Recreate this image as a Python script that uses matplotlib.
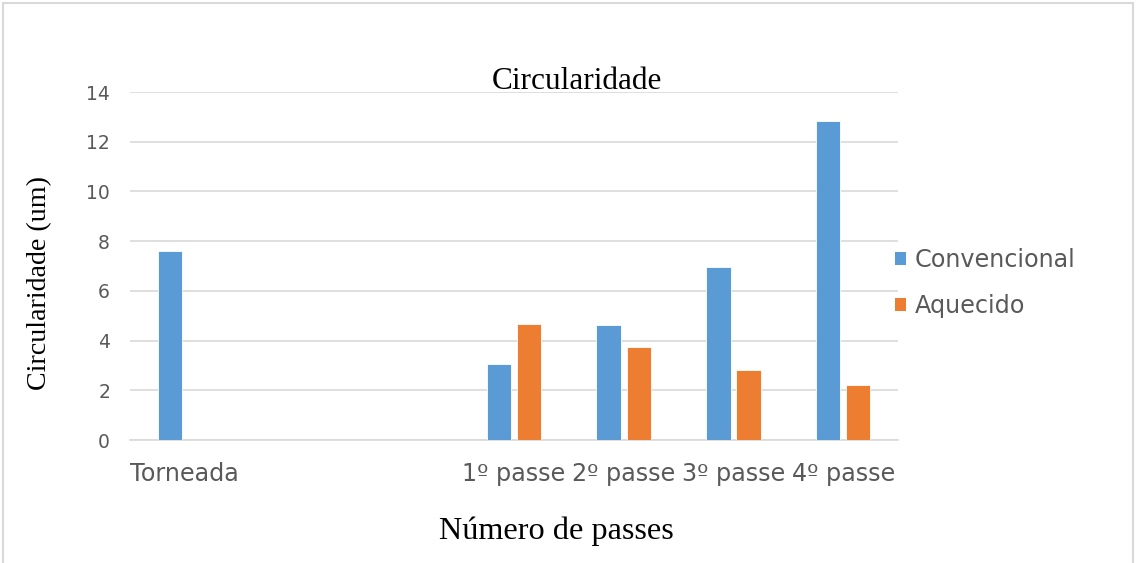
import matplotlib
matplotlib.use("Agg")
import matplotlib.pyplot as plt
import numpy as np
from matplotlib.patches import Rectangle, Patch

categories = ["Torneada", "", "", "1º passe", "2º passe", "3º passe", "4º passe"]
convencional = [7.6, 0, 0, 3.06, 4.62, 6.94, 12.83]
aquecido = [0, 0, 0, 4.68, 3.73, 2.82, 2.23]
series_names = ["Convencional", "Aquecido"]
yticks = [0, 2, 4, 6, 8, 10, 12, 14]

BLUE = "#5B9BD5"
ORANGE = "#ED7D31"
GRID = "#D9D9D9"
TICK = "#595959"

fig = plt.figure(figsize=(11.37, 5.63), dpi=100)
W, H = 1137, 563
ax = fig.add_axes([130 / W, 1 - 440 / H, (898 - 130) / W, (440 - 92) / H])

x = np.arange(len(categories))
width = 0.223
off = 0.137
conv_vals = np.array(convencional, dtype=float)
aq_vals = np.array(aquecido, dtype=float)
ax.bar(x - off, np.where(conv_vals > 0, conv_vals, np.nan), width, color=BLUE,
       edgecolor="white", linewidth=0.6, zorder=3)
ax.bar(x + off, np.where(aq_vals > 0, aq_vals, np.nan), width, color=ORANGE,
       edgecolor="white", linewidth=0.6, zorder=3)

ax.set_xlim(-0.5, len(categories) - 0.5)
ax.set_ylim(0, 14)
ax.set_yticks(yticks)
ax.set_yticklabels([str(v) for v in yticks], fontfamily="DejaVu Sans",
                   fontsize=13.5, color=TICK)
ax.set_xticks(x)
ax.set_xticklabels(categories, fontfamily="DejaVu Sans", fontsize=17.2, color=TICK)
ax.tick_params(axis="both", length=0)
ax.tick_params(axis="y", pad=14.4)
ax.tick_params(axis="x", pad=15.5)
ax.yaxis.grid(True, color=GRID, linewidth=1.2, zorder=0)
ax.set_axisbelow(True)
for s in ["top", "right", "left"]:
    ax.spines[s].set_visible(False)
ax.spines["bottom"].set_color(GRID)
ax.spines["bottom"].set_linewidth(1.2)

fig.text(577 / W, 1 - 89 / H, "Circularidade", ha="center", va="baseline",
         fontfamily="Liberation Serif", fontsize=22.5, color="black")
fig.text(40 / W, 1 - 283 / H, "Circularidade (um)", ha="center", va="center",
         rotation=90, fontfamily="Liberation Serif", fontsize=20.2, color="black")
fig.text(556 / W, 1 - 539 / H, "Número de passes", ha="center", va="baseline",
         fontfamily="Liberation Serif", fontsize=23.2, color="black")

handles = [Patch(facecolor=BLUE), Patch(facecolor=ORANGE)]
leg = fig.legend(handles, series_names, loc="center left",
                 bbox_to_anchor=(895 / W, 1 - 283 / H), frameon=False,
                 prop={"family": "DejaVu Sans", "size": 17.2},
                 handlelength=0.45, handleheight=0.45, handletextpad=0.38,
                 labelspacing=0.95, borderaxespad=0, borderpad=0)
for t in leg.get_texts():
    t.set_color(TICK)

fig.patches.append(Rectangle((3 / W, -0.01), (1133 - 3) / W, 1 - 3 / H + 0.01,
                             transform=fig.transFigure, fill=False,
                             edgecolor=GRID, linewidth=1.5))

fig.savefig("out.png", dpi=100, facecolor="white")
